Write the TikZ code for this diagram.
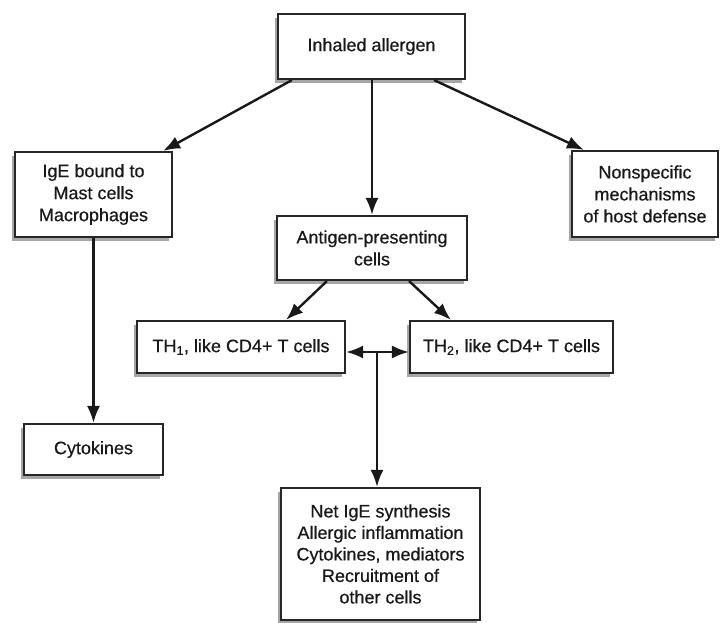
\documentclass[tikz,border=0pt]{standalone}
\usepackage{fontspec}
\setmainfont{Liberation Sans}
\usetikzlibrary{shadows,calc,arrows.meta}
\begin{document}
\begin{tikzpicture}[x=1pt,y=-1pt,
  box/.style={draw=black!85, line width=2.2pt, fill=white, inner sep=0pt, align=center,
    font=\fontsize{18}{22}\selectfont\addfontfeature{FakeBold=0.5}, text=black!90,
    drop shadow={shadow xshift=-3.5pt, shadow yshift=-4pt, fill=black!35, opacity=1}},
  arr/.style={draw=black!90, line width=2.4pt, -{Latex[length=17pt,width=13pt]}}]
\useasboundingbox (0,0) rectangle (724,623);
\fill[white] (0,0) rectangle (724,623);
\node[box, minimum width=187pt, minimum height=65pt] (inh) at (371.5,46.5) {Inhaled allergen};
\node[box, minimum width=157pt, minimum height=85pt] (ige) at (93.5,194.5) {IgE bound to\\Mast cells\\Macrophages};
\node[box, minimum width=146pt, minimum height=86pt] (non) at (645,194) {Nonspecific\\mechanisms\\of host defense};
\node[box, minimum width=190pt, minimum height=64pt] (apc) at (372,248) {Antigen-presenting\\cells};
\node[box, minimum width=208pt, minimum height=52pt] (th1) at (241,347) {TH\textsubscript{1}, like CD4+ T cells};
\node[box, minimum width=203pt, minimum height=52pt] (th2) at (511.5,347) {TH\textsubscript{2}, like CD4+ T cells};
\node[box, minimum width=139pt, minimum height=51pt] (cyt) at (93.5,449.5) {Cytokines};
\node[box, minimum width=199pt, minimum height=132pt, font=\fontsize{18}{21.5}\selectfont\addfontfeature{FakeBold=0.5}] (net) at (380.5,554) {Net IgE synthesis\\Allergic inflammation\\Cytokines, mediators\\Recruitment of\\other cells};
\coordinate (j) at (377,352);
\draw[arr] ($(inh.south west)+(15,0)$) -- ($(ige.north east)+(-10,0)$);
\draw[arr] ($(inh.south east)+(-32,0)$) -- ($(non.north west)+(13,0)$);
\draw[arr] (inh.south -| apc.north) -- (apc.north);
\draw[arr] (ige.south) -- (cyt.north);
\draw[arr] ($(apc.south west)+(51,0)$) -- ($(th1.north east)+(-60,0)$);
\draw[arr] ($(apc.south east)+(-59,0)$) -- ($(th2.north west)+(42,0)$);
\draw[arr] (j) -- (th1.east |- j);
\draw[arr] (j) -- (th2.west |- j);
\draw[arr] (j) -- (net.north -| j);
\end{tikzpicture}
\end{document}
